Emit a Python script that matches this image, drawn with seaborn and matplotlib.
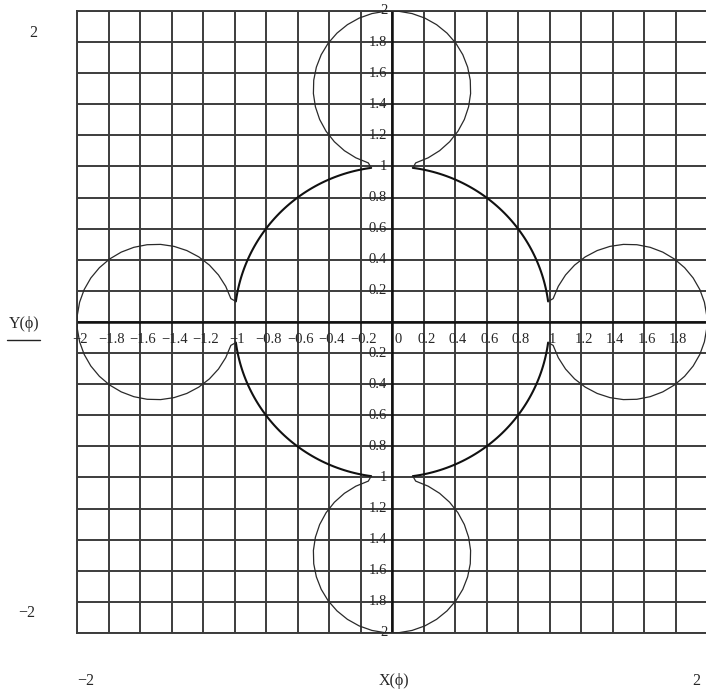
import numpy as np
import pandas as pd
import matplotlib
matplotlib.use("Agg")
import matplotlib.pyplot as plt
import seaborn as sns

# Curve description: a unit circle broken at four cusps, with a small circle
# ("lobe") attached at each axis direction.
main_radius = 1.0
cusp_angle = 7.6            # degrees away from each axis where the cusp tips sit
lobe_directions = [0, 90, 180, 270]
lobe_distance = 1.5
lobe_radius = 0.5
lobe_half_span = 162.5      # degrees of each lobe on either side of its outer point

# Axis ticks and their printed labels
x_ticks = [-2, -1.8, -1.6, -1.4, -1.2, -1, -0.8, -0.6, -0.4, -0.2, 0,
           0.2, 0.4, 0.6, 0.8, 1, 1.2, 1.4, 1.6, 1.8]
x_tick_text = ["\u22122", "\u22121.8", "\u22121.6", "\u22121.4", "\u22121.2", "\u22121",
               "\u22120.8", "\u22120.6", "\u22120.4", "\u22120.2", "0",
               "0.2", "0.4", "0.6", "0.8", "1", "1.2", "1.4", "1.6", "1.8"]
y_ticks = [2, 1.8, 1.6, 1.4, 1.2, 1, 0.8, 0.6, 0.4, 0.2,
           -0.2, -0.4, -0.6, -0.8, -1, -1.2, -1.4, -1.6, -1.8, -2]
y_tick_text = ["2", "1.8", "1.6", "1.4", "1.2", "1", "0.8", "0.6", "0.4", "0.2",
               "0.2", "0.4", "0.6", "0.8", "1", "1.2", "1.4", "1.6", "1.8", "2"]
x_limits = [-2, 2]
y_limits = [-2, 2]

# ---- build the traces -------------------------------------------------------
rows = []
for k, d in enumerate(lobe_directions):
    # arc of the main circle between this axis and the next one
    t = np.radians(np.linspace(d + cusp_angle, d + 90 - cusp_angle, 60))
    for a in t:
        rows.append(("main", k, main_radius * np.cos(a), main_radius * np.sin(a)))
    # lobe around the axis direction d, running from one cusp tip to the other
    cx = lobe_distance * np.cos(np.radians(d))
    cy = lobe_distance * np.sin(np.radians(d))
    start = np.radians(d - cusp_angle)
    end = np.radians(d + cusp_angle)
    pts = [(main_radius * np.cos(start), main_radius * np.sin(start))]
    s = np.radians(np.linspace(d - lobe_half_span, d + lobe_half_span, 34))
    pts += [(cx + lobe_radius * np.cos(a), cy + lobe_radius * np.sin(a)) for a in s]
    pts.append((main_radius * np.cos(end), main_radius * np.sin(end)))
    for px, py in pts:
        rows.append(("lobe", k, px, py))
curve = pd.DataFrame(rows, columns=["part", "seg", "x", "y"])

# ---- figure -----------------------------------------------------------------
sns.set_style("white")
plt.rcParams["font.family"] = ["Liberation Serif", "DejaVu Serif"]

W, H = 706, 692
fig = plt.figure(figsize=(W / 100, H / 100), dpi=100)
left_px, right_px, top_px, bottom_px = 77, 707, 11, 633
ax = fig.add_axes([left_px / W, 1 - bottom_px / H,
                   (right_px - left_px) / W, (bottom_px - top_px) / H])
ax.set_xlim(*x_limits)
ax.set_ylim(*y_limits)

grid_col = "#3c3c3c"
ax.set_xticks(np.round(np.arange(-2, 2.001, 0.2), 1))
ax.set_yticks(np.round(np.arange(-2, 2.001, 0.2), 1))
ax.grid(True, color=grid_col, lw=1.4)
ax.tick_params(length=0, labelbottom=False, labelleft=False)
for sp in ax.spines.values():
    sp.set_color(grid_col)
    sp.set_linewidth(1.4)
ax.axhline(0, color="#111111", lw=1.8, zorder=2)
ax.axvline(0, color="#111111", lw=1.8, zorder=2)

sns.lineplot(data=curve[curve.part == "main"], x="x", y="y", units="seg",
             estimator=None, sort=False, color="#111111", lw=1.5, ax=ax, zorder=3)
sns.lineplot(data=curve[curve.part == "lobe"], x="x", y="y", units="seg",
             estimator=None, sort=False, color="#2a2a2a", lw=0.9, ax=ax, zorder=3)
ax.set_xlabel("")
ax.set_ylabel("")

fs = 10.5
for v, s in zip(x_ticks, x_tick_text):
    dx = 4.5 if v == 0 else 2.0
    ax.annotate(s, (v, 0), xytext=(dx, -12.5), textcoords="offset points",
                ha="center", va="center", fontsize=fs, zorder=5, annotation_clip=False)
for v, s in zip(y_ticks, y_tick_text):
    ax.annotate(s, (0, v), xytext=(-3.5, 0), textcoords="offset points",
                ha="right", va="center", fontsize=fs, zorder=5, annotation_clip=False)

# Labels around the plot frame (pixel positions, origin top-left)
def fig_text(px, py, s, **kw):
    fig.text(px / W, 1 - py / H, s, ha="center", va="center", fontsize=11.5, **kw)

fig_text(33, 33, "2")
fig_text(27, 613, "\u22122")
fig_text(24, 324, "Y(\u03d5)")
fig.add_artist(plt.Line2D([7 / W, 40 / W], [1 - 340 / H, 1 - 340 / H],
                          color="#222222", lw=1.0))
fig_text(86, 681, "\u22122")
fig_text(394, 681, "X(\u03d5)")
fig_text(696, 681, "2")

fig.savefig("out.png", dpi=100)
